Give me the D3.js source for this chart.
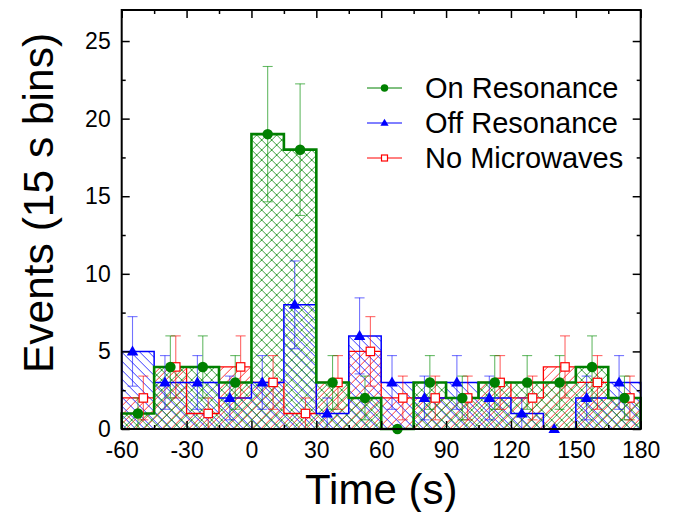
<!DOCTYPE html>
<html>
<head>
<meta charset="utf-8">
<script src="https://cdn.jsdelivr.net/npm/d3@7"></script>
<style>
body { margin: 0; background: #fff; }
svg { display: block; font-family: Arial, "Liberation Sans", sans-serif; }
</style>
</head>
<body>
<svg id="chart"></svg>
<script>
// bins of 15 s, left edges
const binStarts = [-60, -45, -30, -15, 0, 15, 30, 45, 60, 75, 90, 105, 120, 135, 150, 165];
const binWidth = 15;

const onCounts  = [1, 4, 4, 3, 19, 18, 3, 2, 0, 3, 2, 3, 3, 3, 4, 2];
const onErr     = [1, 2, 2, 1.73, 4.36, 4.24, 1.73, 1.41, 0, 1.73, 1.41, 1.73, 1.73, 1.73, 2, 1.41];
const offCounts = [5, 3, 3, 2, 3, 8, 1, 6, 3, 2, 3, 2, 1, 0, 2, 3];
const offErr    = [2.24, 1.73, 1.73, 1.41, 1.73, 2.83, 1, 2.45, 1.73, 1.41, 1.73, 1.41, 1, 0, 1.41, 1.73];
const noCounts  = [2, 4, 1, 4, 3, 1, 3, 5, 2, 2, 2, 3, 2, 4, 3, 2];
const noErr     = [1.41, 2, 1, 2, 1.73, 1, 1.73, 2.24, 1.41, 1.41, 1.41, 1.73, 1.41, 2, 1.73, 1.41];

const seriesNames = ['On Resonance', 'Off Resonance', 'No Microwaves'];
const xTicks = [-60, -30, 0, 30, 60, 90, 120, 150, 180];
const yTicks = [0, 5, 10, 15, 20, 25];

const width = 675, height = 512;
const margin = {top: 10, right: 34.3, bottom: 83, left: 121.7};
const innerW = width - margin.left - margin.right;
const innerH = height - margin.top - margin.bottom;

const svg = d3.select('#chart').attr('width', width).attr('height', height);
const defs = svg.append('defs');

function hatch(id, color, dirs, size) {
    const p = defs.append('pattern')
        .attr('id', id)
        .attr('patternUnits', 'userSpaceOnUse')
        .attr('width', size).attr('height', size);
    const s = size;
    let d = '';
    if (dirs.includes('/')) d += `M-2,2L2,-2M0,${s}L${s},0M${s - 2},${s + 2}L${s + 2},${s - 2}`;
    if (dirs.includes('\\')) d += `M-2,${s - 2}L2,${s + 2}M0,0L${s},${s}M${s - 2},-2L${s + 2},2`;
    p.append('path').attr('d', d)
        .attr('stroke', color).attr('stroke-width', 0.9).attr('fill', 'none');
}
hatch('hatchRed', '#ff2020', '/', 9);
hatch('hatchBlue', '#2020ff', '\\', 9);
hatch('hatchGreen', '#269626', '/\\', 10);

const series = [
    {name: seriesNames[2], counts: noCounts, err: noErr, color: '#ff0000', errColor: 'rgba(255,0,0,0.6)', fill: 'url(#hatchRed)', lw: 1.3, shift: 2.5, marker: 'square'},
    {name: seriesNames[1], counts: offCounts, err: offErr, color: '#0000ff', errColor: 'rgba(0,0,255,0.55)', fill: 'url(#hatchBlue)', lw: 1.5, shift: -2.5, marker: 'triangle'},
    {name: seriesNames[0], counts: onCounts, err: onErr, color: '#008000', errColor: 'rgba(0,140,0,0.6)', fill: 'url(#hatchGreen)', lw: 2.6, shift: 0, marker: 'circle'}
];

const chart = svg.append('g')
    .attr('transform', `translate(${margin.left},${margin.top})`);

const xscale = d3.scaleLinear().domain([-60, 180]).range([0, innerW]);
const yscale = d3.scaleLinear().domain([0, 27]).range([innerH, 0]);

function stepPoints(counts) {
    const pts = [[binStarts[0], 0]];
    binStarts.forEach((b, i) => pts.push([b, counts[i]]));
    const last = binStarts[binStarts.length - 1] + binWidth;
    pts.push([last, counts[counts.length - 1]]);
    pts.push([last, 0]);
    return pts;
}
const step = d3.line()
    .x(d => xscale(d[0]))
    .y(d => yscale(d[1]))
    .curve(d3.curveStepAfter);

// hatched fills
series.forEach(s => {
    chart.append('path')
        .attr('d', step(stepPoints(s.counts)) + 'Z')
        .attr('fill', s.fill)
        .attr('stroke', 'none');
});
// outlines
series.forEach(s => {
    chart.append('path')
        .attr('d', step(stepPoints(s.counts)))
        .attr('fill', 'none')
        .attr('stroke', s.color)
        .attr('stroke-width', s.lw)
        .attr('stroke-linejoin', 'miter');
});

// error bars
const cap = 5;
series.forEach(s => {
    const g = chart.append('g').attr('stroke', s.errColor).attr('stroke-width', 1.1);
    binStarts.forEach((b, i) => {
        if (s.err[i] <= 0) return;
        const cx = xscale(b + binWidth / 2 + s.shift);
        const y1 = yscale(s.counts[i] + s.err[i]);
        const y0 = yscale(Math.max(0, s.counts[i] - s.err[i]));
        g.append('line').attr('x1', cx).attr('x2', cx).attr('y1', y0).attr('y2', y1);
        g.append('line').attr('x1', cx - cap).attr('x2', cx + cap).attr('y1', y1).attr('y2', y1);
        g.append('line').attr('x1', cx - cap).attr('x2', cx + cap).attr('y1', y0).attr('y2', y0);
    });
});

function drawMarker(g, type, x, y, color, size) {
    if (type === 'circle') {
        g.append('circle').attr('cx', x).attr('cy', y).attr('r', size * 0.5)
            .attr('fill', color);
    } else if (type === 'triangle') {
        const h = size * 0.95, w = size * 1.1;
        g.append('path')
            .attr('d', `M${x},${y - h * 0.6}L${x + w / 2},${y + h * 0.4}L${x - w / 2},${y + h * 0.4}Z`)
            .attr('fill', color);
    } else {
        const a = size * 0.8;
        g.append('rect').attr('x', x - a / 2).attr('y', y - a / 2)
            .attr('width', a).attr('height', a)
            .attr('fill', '#fff').attr('stroke', color).attr('stroke-width', 1.2);
    }
}

// markers
series.forEach(s => {
    const g = chart.append('g');
    binStarts.forEach((b, i) => {
        drawMarker(g, s.marker, xscale(b + binWidth / 2 + s.shift), yscale(s.counts[i]), s.color, 10.5);
    });
});

// axes with inward ticks
const xMinor = d3.range(-45, 180, 30);
const yMinor = d3.range(2.5, 27, 5);
function styleAxis(g) {
    g.select('.domain').remove();
    g.selectAll('line').attr('stroke', '#000').attr('stroke-width', 1.5);
    g.selectAll('text').attr('fill', '#000').style('font-size', '23px');
}
chart.append('g').attr('transform', `translate(0,${innerH})`)
    .call(d3.axisBottom(xscale).tickValues(xTicks).tickSize(-8).tickPadding(13).tickFormat(d => String(d)))
    .call(styleAxis);
chart.append('g').attr('transform', `translate(0,${innerH})`)
    .call(d3.axisBottom(xscale).tickValues(xMinor).tickSize(-4).tickFormat(''))
    .call(styleAxis);
chart.append('g')
    .call(d3.axisTop(xscale).tickValues(xTicks).tickSize(-8).tickFormat(''))
    .call(styleAxis);
chart.append('g')
    .call(d3.axisTop(xscale).tickValues(xMinor).tickSize(-4).tickFormat(''))
    .call(styleAxis);
chart.append('g')
    .call(d3.axisLeft(yscale).tickValues(yTicks).tickSize(-8).tickPadding(11).tickFormat(d => String(d)))
    .call(styleAxis);
chart.append('g')
    .call(d3.axisLeft(yscale).tickValues(yMinor).tickSize(-4).tickFormat(''))
    .call(styleAxis);
chart.append('g').attr('transform', `translate(${innerW},0)`)
    .call(d3.axisRight(yscale).tickValues(yTicks).tickSize(-8).tickFormat(''))
    .call(styleAxis);
chart.append('g').attr('transform', `translate(${innerW},0)`)
    .call(d3.axisRight(yscale).tickValues(yMinor).tickSize(-4).tickFormat(''))
    .call(styleAxis);

chart.append('rect')
    .attr('width', innerW).attr('height', innerH)
    .attr('fill', 'none').attr('stroke', '#000').attr('stroke-width', 2);

// axis titles
svg.append('text')
    .attr('x', margin.left + innerW / 2).attr('y', 504)
    .attr('text-anchor', 'middle')
    .style('font-size', '42px')
    .text('Time (s)');
svg.append('text')
    .attr('transform', 'translate(53,203) rotate(-90)')
    .attr('text-anchor', 'middle')
    .style('font-size', '42.5px')
    .text('Events (15 s bins)');

// legend
const legendRows = [series[2], series[1], series[0]];
const legend = svg.append('g');
legendRows.forEach((s, i) => {
    const y = 88 + i * 35;
    legend.append('line')
        .attr('x1', 367).attr('x2', 402).attr('y1', y).attr('y2', y)
        .attr('stroke', s.color).attr('stroke-width', 1);
    drawMarker(legend, s.marker, 384.5, y, s.color, 7.5);
    legend.append('text')
        .attr('x', 425).attr('y', y).attr('dy', '0.36em')
        .style('font-size', '29px')
        .text(s.name);
});
</script>
</body>
</html>
